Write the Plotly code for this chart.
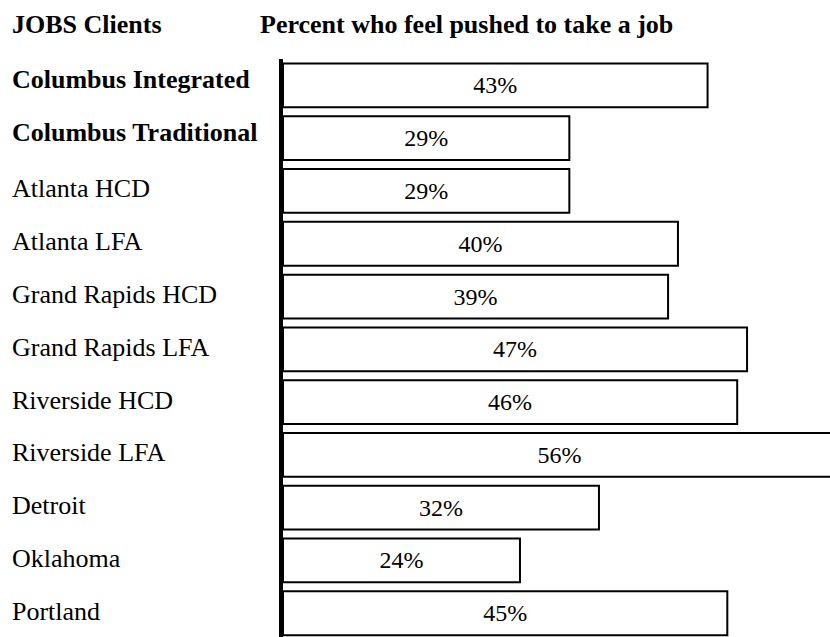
import plotly.graph_objects as go

categories = ["Columbus Integrated", "Columbus Traditional", "Atlanta HCD", "Atlanta LFA",
              "Grand Rapids HCD", "Grand Rapids LFA", "Riverside HCD", "Riverside LFA",
              "Detroit", "Oklahoma", "Portland"]
values = [43, 29, 29, 40, 39, 47, 46, 56, 32, 24, 45]
bold_rows = ["Columbus Integrated", "Columbus Traditional"]
value_labels = [f"{v}%" for v in values]

FONT = "Liberation Serif, Times New Roman, serif"

W, H = 830, 637
L, T, R, B = 283, 59, 0, 0
PW = W - L - R
PH = H - T - B

fig = go.Figure()
fig.add_trace(go.Bar(
    y=categories, x=values, orientation="h",
    marker=dict(color="white", line=dict(color="black", width=2)),
    width=0.83,
    text=value_labels, textposition="inside", insidetextanchor="middle",
    textfont=dict(family=FONT, size=24, color="black"),
    cliponaxis=True, hoverinfo="skip",
))

def px_x(x):
    return (x - L) / PW

def px_y(y):
    return 1 + (T - y) / PH

annotations = []
for c in categories:
    bold = c in bold_rows
    annotations.append(dict(
        x=px_x(10), xref="paper", y=c, yref="y",
        text=f"<b>{c}</b>" if bold else c, showarrow=False,
        xanchor="left", yanchor="middle", yshift=6 if bold else 2,
        font=dict(family=FONT, size=26, color="black")))
annotations.append(dict(
    x=px_x(10), xref="paper", y=px_y(24), yref="paper",
    text="<b>JOBS Clients</b>", showarrow=False, xanchor="left", yanchor="middle",
    font=dict(family=FONT, size=26, color="black")))
annotations.append(dict(
    x=px_x(258), xref="paper", y=px_y(24), yref="paper",
    text="<b>Percent who feel pushed to take a job</b>", showarrow=False,
    xanchor="left", yanchor="middle",
    font=dict(family=FONT, size=26, color="black")))

fig.update_layout(
    width=W, height=H,
    margin=dict(l=L, r=R, t=T, b=B),
    paper_bgcolor="white", plot_bgcolor="white",
    showlegend=False,
    hovermode=False,
    xaxis=dict(range=[0, 55.4], showgrid=False, zeroline=False, showticklabels=False,
               showline=False, ticks="", fixedrange=True),
    yaxis=dict(range=[10.45, -0.5], showgrid=False, zeroline=False, showticklabels=False,
               showline=True, linecolor="black", linewidth=4, ticks="", fixedrange=True),
    annotations=annotations,
    uniformtext=dict(minsize=24, mode="show"),
)

fig.write_html(
    "out.html",
    config={"displayModeBar": False, "staticPlot": True},
    post_script="document.body.style.margin='0';document.body.style.overflow='hidden';",
)
